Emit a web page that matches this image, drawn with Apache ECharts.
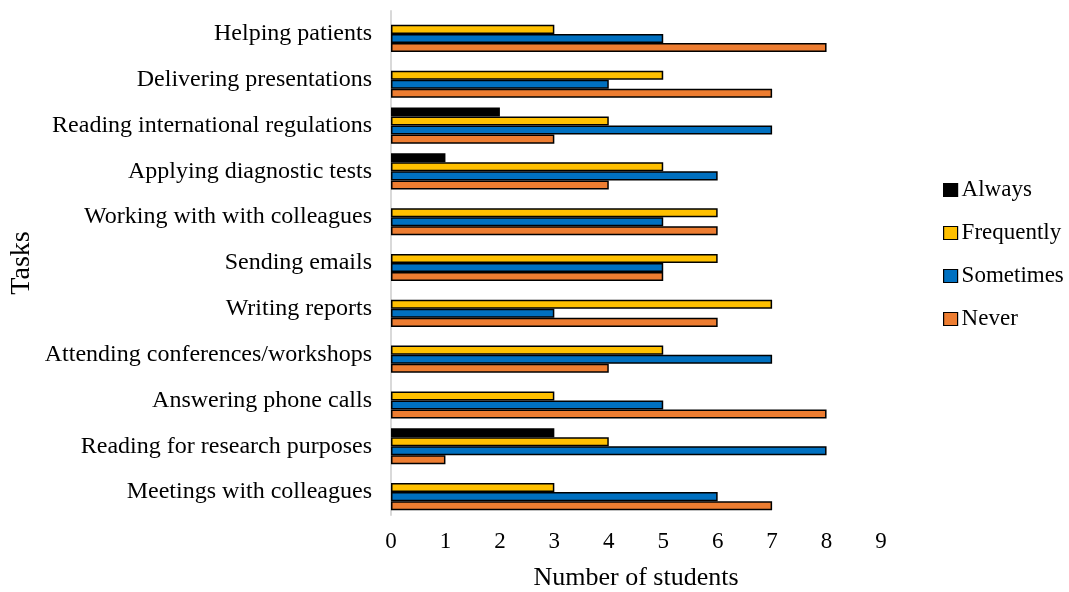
<!DOCTYPE html>
<html>
<head>
<meta charset="utf-8">
<script src="https://cdn.jsdelivr.net/npm/echarts@6/dist/echarts.min.js"></script>
<style>
  html, body { margin: 0; padding: 0; background: #fff; }
  #chart { width: 1069px; height: 592px; }
</style>
</head>
<body>
<div id="chart"></div>
<script>
// Tasks listed top to bottom
const tasks = [
  'Helping patients',
  'Delivering presentations',
  'Reading international regulations',
  'Applying diagnostic tests',
  'Working with with colleagues',
  'Sending emails',
  'Writing reports',
  'Attending conferences/workshops',
  'Answering phone calls',
  'Reading for research purposes',
  'Meetings with colleagues'
];

// Number of students per frequency, same order as tasks
const always     = [0, 0, 2, 1, 0, 0, 0, 0, 0, 3, 0];
const frequently = [3, 5, 4, 5, 6, 6, 7, 5, 3, 4, 3];
const sometimes  = [5, 4, 7, 6, 5, 5, 3, 7, 5, 8, 6];
const never      = [8, 7, 3, 4, 6, 5, 6, 4, 8, 1, 7];

const xTicks = [0, 1, 2, 3, 4, 5, 6, 7, 8, 9];

const seriesDefs = [
  { name: 'Always',     data: always,     color: '#000000' },
  { name: 'Frequently', data: frequently, color: '#FFC000' },
  { name: 'Sometimes',  data: sometimes,  color: '#0070C0' },
  { name: 'Never',      data: never,      color: '#ED7D31' }
];

const font = "'Liberation Serif', 'Times New Roman', serif";

const chart = echarts.init(document.getElementById('chart'), null, { renderer: 'canvas' });

chart.setOption({
  animation: false,
  textStyle: { fontFamily: font },
  grid: { left: 391, right: 188, top: 11, bottom: 77, containLabel: false, outerBoundsMode: 'none' },
  legend: {
    orient: 'vertical',
    left: 943,
    top: 178,
    padding: 0,
    itemGap: 19,
    itemWidth: 14,
    itemHeight: 13,
    icon: 'rect',
    itemStyle: { borderColor: '#000', borderWidth: 1.2 },
    textStyle: { fontFamily: font, fontSize: 23, lineHeight: 24, color: '#000', padding: [0, 0, 0, -1] },
    data: seriesDefs.map(s => s.name)
  },
  xAxis: {
    type: 'value',
    min: 0,
    max: 9,
    interval: 1,
    name: 'Number of students',
    nameLocation: 'middle',
    nameGap: 50,
    nameTextStyle: { fontFamily: font, fontSize: 26, color: '#000' },
    axisLine: { show: false },
    axisTick: { show: false },
    splitLine: { show: false },
    axisLabel: {
      fontFamily: font, fontSize: 23, color: '#000', margin: 15,
      formatter: v => String(xTicks[v] ?? v)
    }
  },
  yAxis: {
    type: 'category',
    inverse: true,
    data: tasks,
    name: 'Tasks',
    nameLocation: 'middle',
    nameGap: 355,
    nameRotate: 90,
    nameTextStyle: { fontFamily: font, fontSize: 28, color: '#000' },
    axisLine: { show: true, lineStyle: { color: '#D9D9D9', width: 2 } },
    axisTick: { show: false },
    axisLabel: { fontFamily: font, fontSize: 24, color: '#000', margin: 19, padding: [4, 0, 0, 0] }
  },
  series: seriesDefs.map(s => ({
    name: s.name,
    type: 'bar',
    data: s.data.map(v => (v === 0 ? null : v)),
    barGap: '0%',
    barCategoryGap: '21%',
    itemStyle: { color: s.color, borderColor: '#000', borderWidth: 1.5 }
  }))
});
</script>
</body>
</html>
